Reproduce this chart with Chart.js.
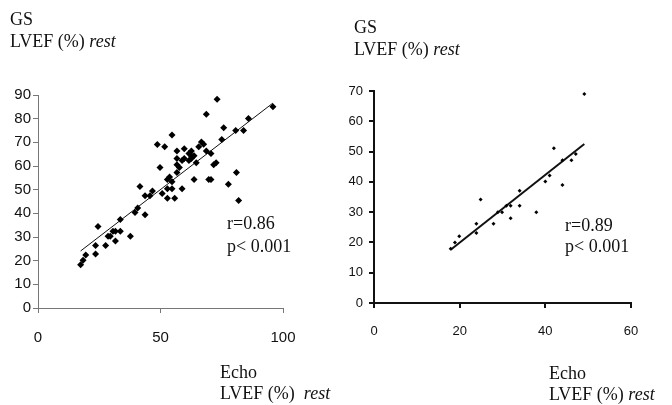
<!DOCTYPE html>
<html>
<head>
<meta charset="utf-8">
<script src="https://cdn.jsdelivr.net/npm/chart.js@4.4.1/dist/chart.umd.min.js"></script>
<style>
    body { margin: 0; background: #fff; }
    #wrap { position: relative; width: 672px; height: 405px; overflow: hidden; }
    canvas { position: absolute; top: 0; }
    .txt {
        position: absolute;
        font-family: "Liberation Serif", "Times New Roman", serif;
        font-size: 18px;
        line-height: 18px;
        color: #111;
        white-space: pre;
    }
    .txt i { font-style: italic; }
</style>
</head>
<body>
<div id="wrap">
    <canvas id="leftChart" width="336" height="405" style="left:0"></canvas>
    <canvas id="rightChart" width="336" height="405" style="left:336px"></canvas>

    <div class="txt" style="left:10px; top:10px">GS</div>
    <div class="txt" style="left:10px; top:32px">LVEF (%) <i>rest</i></div>
    <div class="txt" style="left:227px; top:214px">r=0.86</div>
    <div class="txt" style="left:227px; top:237px">p&lt; 0.001</div>
    <div class="txt" style="left:220px; top:363px">Echo</div>
    <div class="txt" style="left:220px; top:384px">LVEF (%)  <i>rest</i></div>

    <div class="txt" style="left:354px; top:18px">GS</div>
    <div class="txt" style="left:354px; top:40px">LVEF (%) <i>rest</i></div>
    <div class="txt" style="left:565px; top:216px">r=0.89</div>
    <div class="txt" style="left:565px; top:237px">p&lt; 0.001</div>
    <div class="txt" style="left:549px; top:364px">Echo</div>
    <div class="txt" style="left:549px; top:385px">LVEF (%) <i>rest</i></div>
</div>

<script>
// left panel: Echo LVEF (x) vs GS LVEF (y), all patients
const leftEcho = [17.4, 18.4, 19.5, 23.5, 23.5, 24.5, 27.6, 28.6, 29.5, 30.6, 31.6, 31.6, 33.6, 33.6,
    37.7, 39.6, 40.7, 41.6, 43.7, 43.7, 45.7, 46.7, 48.7, 49.8, 50.7, 51.7, 52.8, 52.8, 52.8, 53.7,
    54.7, 54.7, 54.7, 55.8, 56.7, 56.7, 56.7, 56.7, 57.7, 58.8, 58.8, 59.7, 59.7, 61.6, 61.6, 62.6,
    62.6, 62.6, 63.7, 63.7, 64.6, 65.6, 66.7, 67.6, 68.7, 68.7, 69.7, 70.6, 70.6, 71.7, 72.7, 73.1,
    75.0, 75.8, 77.7, 80.7, 81.0, 81.9, 83.9, 85.9, 95.9];
const leftGS = [18.3, 20.2, 22.4, 22.8, 26.4, 34.4, 26.4, 30.3, 30.3, 32.4, 28.3, 32.4, 32.4, 37.4,
    30.3, 40.3, 42.3, 51.3, 39.4, 47.4, 47.4, 49.4, 69.1, 59.4, 48.4, 68.1, 54.3, 50.4, 46.4, 55.4,
    73.1, 53.3, 50.4, 46.4, 66.3, 63.2, 60.5, 57.3, 59.4, 50.4, 62.3, 67.3, 63.2, 62.3, 65.3, 66.3,
    64.3, 63.2, 64.3, 54.3, 61.4, 68.1, 70.1, 69.2, 81.9, 66.3, 54.3, 54.3, 65.3, 60.5, 61.4, 88.2,
    71.2, 76.2, 52.3, 75.0, 57.3, 45.4, 75.0, 80.1, 85.0];
const leftFitX = [17.4, 95.9];
const leftFitY = [24.1, 86.6];

// right panel: subgroup
const rightEcho = [17.9, 18.9, 19.9, 23.9, 23.9, 24.9, 27.9, 28.9, 29.9, 30.9, 31.9, 31.9, 34.0,
    34.0, 37.9, 40.0, 41.0, 42.0, 44.0, 44.0, 46.1, 47.1, 49.1];
const rightGS = [17.9, 20.0, 22.0, 26.2, 23.1, 34.2, 26.2, 30.0, 30.0, 32.1, 32.1, 28.0, 32.1,
    37.1, 30.0, 40.1, 42.1, 51.1, 39.0, 47.1, 47.1, 49.2, 69.0];
const rightFitX = [17.9, 49.1];
const rightFitY = [17.6, 52.5];

// axis ranges [min, max, step]
const leftXTicks = [0, 100, 50];
const leftYTicks = [0, 90, 10];
const rightXTicks = [0, 60, 20];
const rightYTicks = [0, 70, 10];

const zip = (xs, ys) => xs.map((x, i) => ({ x: x, y: ys[i] }));

function makeChart(id, opts) {
    const axis = (t, size, isX) => ({
        type: 'linear',
        min: t[0],
        max: t[1],
        afterFit: (scale) => {
            if (isX) scale.height = 40; else scale.width = 38;
        },
        border: { display: true, color: opts.axisColor, width: opts.axisWidth },
        grid: {
            drawOnChartArea: false,
            drawTicks: true,
            tickLength: 5,
            color: opts.axisColor,
            lineWidth: opts.axisWidth
        },
        ticks: {
            stepSize: t[2],
            color: '#111',
            padding: isX ? 16 : opts.yPad,
            font: { family: '"Liberation Sans", Arial, sans-serif', size: size }
        }
    });

    return new Chart(document.getElementById(id), {
        type: 'scatter',
        data: {
            datasets: [{
                data: zip(opts.xs, opts.ys),
                pointStyle: opts.pointStyle,
                pointRadius: opts.pointRadius,
                backgroundColor: '#000',
                borderColor: '#000',
                borderWidth: 0
            }, {
                data: zip(opts.fitX, opts.fitY),
                showLine: true,
                pointRadius: 0,
                borderColor: '#111',
                borderWidth: opts.lineWidth
            }]
        },
        options: {
            responsive: false,
            animation: false,
            devicePixelRatio: 1,
            clip: false,
            layout: { padding: opts.padding },
            plugins: { legend: { display: false }, tooltip: { enabled: false } },
            scales: {
                x: axis(opts.xTicks, opts.xFont, true),
                y: axis(opts.yTicks, opts.yFont, false)
            }
        }
    });
}

document.addEventListener('DOMContentLoaded', () => {
    makeChart('leftChart', {
        xs: leftEcho, ys: leftGS, fitX: leftFitX, fitY: leftFitY,
        xTicks: leftXTicks, yTicks: leftYTicks,
        xFont: 15, yFont: 15, yPad: 2,
        pointStyle: 'rectRot', pointRadius: 3.5, lineWidth: 1,
        axisColor: '#777', axisWidth: 1,
        padding: { left: 0, top: 95, right: 53, bottom: 57 }
    });
    makeChart('rightChart', {
        xs: rightEcho, ys: rightGS, fitX: rightFitX, fitY: rightFitY,
        xTicks: rightXTicks, yTicks: rightYTicks,
        xFont: 13, yFont: 13, yPad: 6,
        pointStyle: 'rectRot', pointRadius: 2, lineWidth: 2,
        axisColor: '#111', axisWidth: 2,
        padding: { left: 0, top: 91, right: 41, bottom: 62 }
    });
});
</script>
</body>
</html>
